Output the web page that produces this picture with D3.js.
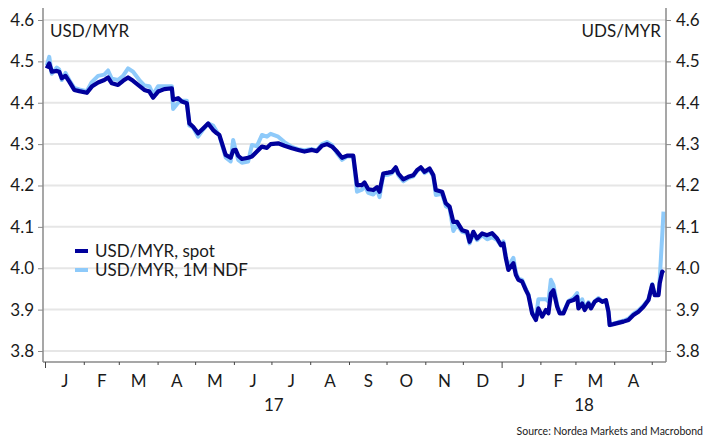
<!DOCTYPE html>
<html><head><meta charset="utf-8">
<script src="https://cdn.jsdelivr.net/npm/d3@7"></script>
<style>body{margin:0;background:#fff}svg{display:block}text{font-family:Lato,"Open Sans",sans-serif;fill:#1a1a1a}</style>
</head><body><svg id="c" width="710" height="448"></svg>
<script>
const dates = ["2017-01-02","2017-01-04","2017-01-06","2017-01-10","2017-01-12","2017-01-14","2017-01-17","2017-01-20","2017-01-24","2017-01-28",
"2017-02-03","2017-02-07","2017-02-12","2017-02-17","2017-02-20","2017-02-23","2017-02-28",
"2017-03-04","2017-03-08","2017-03-12","2017-03-17","2017-03-21","2017-03-25","2017-03-28",
"2017-04-01","2017-04-06","2017-04-12","2017-04-13","2017-04-17","2017-04-20","2017-04-24","2017-04-26","2017-04-29",
"2017-05-03","2017-05-07","2017-05-11","2017-05-15","2017-05-18","2017-05-20","2017-05-25","2017-05-29","2017-05-31",
"2017-06-02","2017-06-04","2017-06-07","2017-06-12","2017-06-15","2017-06-19","2017-06-23","2017-06-27","2017-06-30",
"2017-07-06","2017-07-11","2017-07-17","2017-07-22","2017-07-27",
"2017-08-02","2017-08-06","2017-08-10","2017-08-14","2017-08-18","2017-08-22","2017-08-26","2017-08-30",
"2017-09-04","2017-09-07","2017-09-11","2017-09-13","2017-09-16","2017-09-20","2017-09-23","2017-09-25","2017-09-28",
"2017-10-02","2017-10-05","2017-10-08","2017-10-10","2017-10-14","2017-10-18","2017-10-22","2017-10-25","2017-10-28","2017-10-31",
"2017-11-04","2017-11-07","2017-11-09","2017-11-14","2017-11-17","2017-11-20","2017-11-23","2017-11-26","2017-11-30",
"2017-12-04","2017-12-06","2017-12-09","2017-12-12","2017-12-16","2017-12-20","2017-12-24","2017-12-28","2017-12-31",
"2018-01-02","2018-01-04","2018-01-06","2018-01-08","2018-01-10","2018-01-12","2018-01-14","2018-01-17","2018-01-20","2018-01-22","2018-01-25","2018-01-28","2018-01-30",
"2018-02-02","2018-02-05","2018-02-07","2018-02-09","2018-02-11","2018-02-14","2018-02-16","2018-02-19","2018-02-23","2018-02-27",
"2018-03-02","2018-03-03","2018-03-06","2018-03-08","2018-03-11","2018-03-13","2018-03-16","2018-03-19","2018-03-22","2018-03-25","2018-03-27","2018-03-28","2018-03-31",
"2018-04-04","2018-04-08","2018-04-12","2018-04-16","2018-04-20","2018-04-24","2018-04-28",
"2018-05-01","2018-05-03","2018-05-06","2018-05-07","2018-05-09","2018-05-10"];

const spot = [4.483,4.495,4.475,4.477,4.475,4.459,4.465,4.451,4.431,4.428,
4.424,4.439,4.449,4.455,4.461,4.447,4.443,
4.453,4.461,4.453,4.441,4.431,4.427,4.412,
4.427,4.433,4.435,4.407,4.411,4.403,4.399,4.350,4.342,
4.326,4.338,4.350,4.334,4.326,4.322,4.274,4.267,4.285,
4.286,4.272,4.264,4.267,4.270,4.282,4.294,4.291,4.300,
4.302,4.296,4.290,4.286,4.282,
4.286,4.283,4.296,4.300,4.294,4.282,4.267,4.272,
4.272,4.201,4.201,4.207,4.191,4.189,4.196,4.185,4.229,
4.231,4.233,4.244,4.229,4.215,4.221,4.225,4.237,4.244,4.233,
4.241,4.225,4.189,4.185,4.157,4.149,4.112,4.112,4.092,
4.088,4.064,4.088,4.072,4.084,4.080,4.085,4.072,4.056,
4.060,4.024,3.996,4.004,4.012,3.984,3.972,3.968,3.947,3.935,3.891,3.875,3.903,
3.883,3.899,3.891,3.939,3.947,3.907,3.891,3.891,3.919,3.923,
3.931,3.903,3.915,3.899,3.915,3.903,3.919,3.925,3.919,3.923,3.895,3.863,3.865,
3.868,3.871,3.875,3.887,3.895,3.907,3.923,
3.960,3.935,3.935,3.964,3.992,3.988];

const ndf = [4.490,4.511,4.470,4.485,4.480,4.455,4.472,4.455,4.436,4.432,
4.428,4.450,4.465,4.468,4.478,4.458,4.455,
4.465,4.483,4.475,4.455,4.442,4.440,4.420,
4.440,4.440,4.440,4.385,4.400,4.405,4.405,4.345,4.340,
4.318,4.335,4.350,4.345,4.330,4.320,4.268,4.258,4.310,
4.285,4.262,4.255,4.258,4.298,4.295,4.322,4.318,4.325,
4.318,4.305,4.293,4.288,4.285,
4.288,4.285,4.300,4.305,4.298,4.278,4.262,4.270,
4.270,4.185,4.190,4.200,4.182,4.178,4.190,4.172,4.225,
4.226,4.230,4.242,4.225,4.210,4.218,4.222,4.235,4.242,4.230,
4.238,4.222,4.177,4.180,4.150,4.145,4.090,4.105,4.088,
4.085,4.060,4.083,4.068,4.080,4.070,4.075,4.068,4.055,
4.065,4.030,4.000,4.015,4.025,3.990,3.975,3.972,3.950,3.938,3.893,3.880,3.925,
3.925,3.925,3.920,3.972,3.960,3.912,3.893,3.893,3.921,3.928,
3.940,3.910,3.925,3.905,3.918,3.905,3.920,3.928,3.920,3.922,3.893,3.862,3.866,
3.870,3.873,3.878,3.890,3.898,3.910,3.925,
3.962,3.937,3.940,3.975,4.080,4.137];

const yTicks = [3.8,3.9,4.0,4.1,4.2,4.3,4.4,4.5,4.6];
const monthLabels = ["J","F","M","A","M","J","J","A","S","O","N","D","J","F","M","A"];
const yearLabels = ["17","18"];
const seriesNames = ["USD/MYR, spot","USD/MYR, 1M NDF"];
const colors = ["#00009c","#8ecafa"];

const parse = d3.timeParse("%Y-%m-%d");
const svg = d3.select("#c");
const L = 43, R = 666, T = 8, B = 362;
const FS = 17;
const x = d3.scaleTime().domain([parse("2016-12-30"), parse("2018-05-12")]).range([L, R]);
const y = d3.scaleLinear().domain([3.7734, 4.629]).range([B, T]);

// gridlines
svg.append("g").selectAll("line").data(yTicks).join("line")
  .attr("x1", L).attr("x2", R).attr("y1", d => y(d)).attr("y2", d => y(d))
  .attr("stroke", "#e6e6e6").attr("stroke-width", 2);

// lines
const pts = dates.map((d, i) => ({d: parse(d), s: spot[i], n: ndf[i]}));
const lineN = d3.line().x(p => x(p.d)).y(p => y(p.n));
const lineS = d3.line().x(p => x(p.d)).y(p => y(p.s));
svg.append("path").datum(pts).attr("d", lineN).attr("fill", "none")
  .attr("stroke", colors[1]).attr("stroke-width", 4).attr("stroke-linejoin", "round");
svg.append("path").datum(pts).attr("d", lineS).attr("fill", "none")
  .attr("stroke", colors[0]).attr("stroke-width", 4.2).attr("stroke-linejoin", "round");

// axes
const axisColor = "#8a8a8a";
const yl = svg.append("g").attr("transform", `translate(${L},0)`)
  .call(d3.axisLeft(y).tickValues(yTicks).tickFormat(d3.format(".1f")).tickSize(5).tickPadding(4));
const yr = svg.append("g").attr("transform", `translate(${R},0)`)
  .call(d3.axisRight(y).tickValues(yTicks).tickFormat(d3.format(".1f")).tickSize(5).tickPadding(5));
[yl, yr].forEach(g => {
  g.select(".domain").remove();
  g.selectAll("line").attr("stroke", axisColor);
  g.selectAll("text").attr("font-size", FS).attr("fill", "#1a1a1a").style("font-family", "Lato, sans-serif");
});
svg.append("line").attr("x1", L).attr("x2", L).attr("y1", T).attr("y2", B).attr("stroke", axisColor).attr("stroke-width", 1.5);
svg.append("line").attr("x1", R).attr("x2", R).attr("y1", T).attr("y2", B).attr("stroke", axisColor).attr("stroke-width", 1.5);
svg.append("line").attr("x1", L).attr("x2", R).attr("y1", B).attr("y2", B).attr("stroke", axisColor).attr("stroke-width", 1.5);

// month ticks
const months = d3.timeMonth.range(parse("2017-01-01"), parse("2018-05-02"));
svg.append("g").selectAll("line").data(months).join("line")
  .attr("x1", d => x(d)).attr("x2", d => x(d)).attr("y1", B)
  .attr("y2", d => B + (d.getMonth() === 0 ? 6 : 3))
  .attr("stroke", "#444").attr("stroke-width", 1);

const labelMonths = months.slice(0, monthLabels.length);
svg.append("g").selectAll("text").data(labelMonths).join("text")
  .attr("x", d => (x(d) + x(d3.timeMonth.offset(d, 1))) / 2).attr("y", 387)
  .attr("text-anchor", "middle").attr("font-size", FS).text((d, i) => monthLabels[i]);

const yearStarts = [parse("2017-01-01"), parse("2018-01-01")];
const yearEnds = [parse("2018-01-01"), x.domain()[1]];
svg.append("g").selectAll("text").data(yearLabels).join("text")
  .attr("x", (d, i) => (x(yearStarts[i]) + x(yearEnds[i])) / 2).attr("y", 411)
  .attr("text-anchor", "middle").attr("font-size", FS).text(d => d);

// titles
svg.append("text").attr("x", 50).attr("y", 37).attr("font-size", FS).text("USD/MYR");
svg.append("text").attr("x", 661).attr("y", 37).attr("font-size", FS).attr("text-anchor", "end").text("UDS/MYR");

// legend
const lg = svg.append("g");
seriesNames.forEach((nm, i) => {
  const yy = 251 + i * 19;
  lg.append("line").attr("x1", 75).attr("x2", 88).attr("y1", yy).attr("y2", yy)
    .attr("stroke", colors[i]).attr("stroke-width", 4);
  lg.append("text").attr("x", 95).attr("y", yy + 6).attr("font-size", FS).text(nm);
});

svg.append("text").attr("x", 703).attr("y", 435).attr("font-size", 10.5).attr("text-anchor", "end")
  .text("Source: Nordea Markets and Macrobond");
</script></body></html>
